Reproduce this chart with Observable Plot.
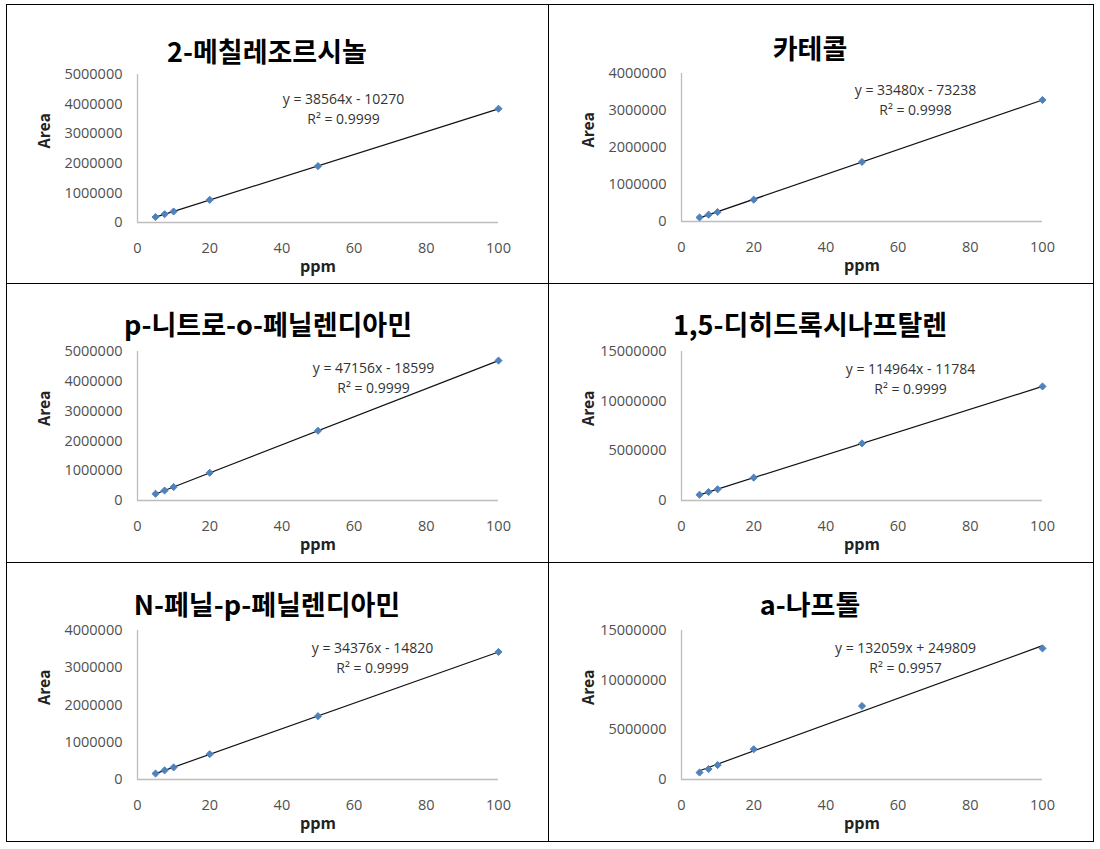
<!DOCTYPE html>
<html>
<head>
<meta charset="utf-8">
<script src="https://cdn.jsdelivr.net/npm/d3@7"></script>
<script src="https://cdn.jsdelivr.net/npm/@observablehq/plot@0.6"></script>
<style>
  html, body { margin: 0; padding: 0; background: #fff; }
  #page { position: relative; width: 1100px; height: 849px; background: #fff; overflow: hidden; }
  .hline, .vline { position: absolute; background: #000; }
  .title { position: absolute; transform: translate(-50%, -50%); font-family: "Noto Sans CJK KR", sans-serif; font-weight: bold; font-size: 27px; line-height: 1; white-space: nowrap; color: #000; z-index: 2; }
  .panel { position: absolute; z-index: 1; }
</style>
</head>
<body>
<div id="page"></div>
<script>
// ---------------- data ----------------
const ppm = [5, 7.5, 10, 20, 50, 100];

const titles = [
  "2-메칠레조르시놀",
  "카테콜",
  "p-니트로-o-페닐렌디아민",
  "1,5-디히드록시나프탈렌",
  "N-페닐-p-페닐렌디아민",
  "a-나프톨"
];

const area2Methylresorcinol = [185000, 280000, 372000, 765000, 1905000, 3845000];
const areaCatechol = [110000, 185000, 255000, 590000, 1610000, 3285000];
const areaNitroPhenylenediamine = [225000, 335000, 450000, 930000, 2340000, 4695000];
const areaDihydroxynaphthalene = [580000, 850000, 1130000, 2300000, 5750000, 11480000];
const areaPhenylPhenylenediamine = [160000, 245000, 325000, 680000, 1700000, 3425000];
const areaNaphthol = [700000, 1050000, 1450000, 3050000, 7400000, 13200000];

const equationLabels = [
  "y = 38564x - 10270",
  "y = 33480x - 73238",
  "y = 47156x - 18599",
  "y = 114964x - 11784",
  "y = 34376x - 14820",
  "y = 132059x + 249809"
];
const r2Labels = [
  "R² = 0.9999",
  "R² = 0.9998",
  "R² = 0.9999",
  "R² = 0.9999",
  "R² = 0.9999",
  "R² = 0.9957"
];

const xTicks = [0, 20, 40, 60, 80, 100];
const yTicks5M = [0, 1000000, 2000000, 3000000, 4000000, 5000000];
const yTicks4M = [0, 1000000, 2000000, 3000000, 4000000];
const yTicks15M = [0, 5000000, 10000000, 15000000];

const seriesList = [area2Methylresorcinol, areaCatechol, areaNitroPhenylenediamine,
                    areaDihydroxynaphthalene, areaPhenylPhenylenediamine, areaNaphthol];
const yTickList = [yTicks5M, yTicks4M, yTicks5M, yTicks15M, yTicks4M, yTicks15M];

// ---------------- layout (not data) ----------------
const frameLeft = [137, 681];
const frameTop = [74, 73, 351, 351, 630, 630];
const frameH = [148, 148, 149, 149, 149, 149];
const titlePos = [[267, 50], [810, 47], [268, 323], [810, 323], [267, 603], [810, 603]];
const eqPos = [[206, 33], [234, 25], [236, 25], [229, 26], [235, 26], [224, 26]];

const page = document.getElementById("page");

// table borders
function hline(y, x1, x2) { const d = document.createElement("div"); d.className = "hline"; Object.assign(d.style, {left: x1 + "px", top: y + "px", width: (x2 - x1 + 1) + "px", height: "1px"}); page.appendChild(d); }
function vline(x, y1, y2) { const d = document.createElement("div"); d.className = "vline"; Object.assign(d.style, {left: x + "px", top: y1 + "px", width: "1px", height: (y2 - y1 + 1) + "px"}); page.appendChild(d); }
[4, 283, 562, 841].forEach(y => hline(y, 6, 1093));
[6, 548, 1093].forEach(x => vline(x, 4, 841));

const font = '"Open Sans", "Noto Sans", sans-serif';

seriesList.forEach((series, i) => {
  const col = i % 2;
  const data = ppm.map((x, j) => ({ppm: x, area: series[j]}));
  const yTicks = yTickList[i];
  const ml = 131, mt = 70, fw = 361, fh = frameH[i], mb = 60;
  const chart = Plot.plot({
    width: 543,
    height: mt + fh + mb,
    marginLeft: ml,
    marginRight: 543 - ml - fw,
    marginTop: mt,
    marginBottom: mb,
    style: {background: "transparent", fontFamily: font, overflow: "visible"},
    x: {domain: [0, 100]},
    y: {domain: [0, d3.max(yTicks)]},
    marks: [
      Plot.axisX({ticks: xTicks, tickSize: 0, tickPadding: 20, tickFormat: d3.format("d"), fontSize: 14.5, color: "#505050", label: null}),
      Plot.axisY({ticks: yTicks, tickSize: 0, tickPadding: 15, tickFormat: d3.format("d"), fontSize: 14.5, color: "#505050", label: null}),
      Plot.ruleY([0], {stroke: "#bdbdbd", strokeWidth: 1.3}),
      Plot.ruleX([0], {stroke: "#bdbdbd", strokeWidth: 1.3}),
      Plot.linearRegressionY(data, {x: "ppm", y: "area", stroke: "#111", strokeWidth: 1.2, ci: 0}),
      Plot.dot(data, {x: "ppm", y: "area", symbol: "diamond2", fill: "#4f81bd", stroke: "#4f81bd", strokeWidth: 1, r: 3.2}),
      Plot.text(["Area"], {frameAnchor: "left", rotate: -90, dx: -93, fontFamily: '"Noto Sans CJK KR", sans-serif', fontWeight: "bold", fontSize: 16, fill: "#222"}),
      Plot.text(["ppm"], {frameAnchor: "bottom", dy: 49, fontFamily: '"Noto Sans CJK KR", sans-serif', fontWeight: "bold", fontSize: 16, fill: "#222"}),
      Plot.text([equationLabels[i] + "\n" + r2Labels[i]], {frameAnchor: "top-left", dx: eqPos[i][0], dy: eqPos[i][1], textAnchor: "middle", lineAnchor: "middle", lineHeight: 1.4, fontSize: 14, fill: "#333"})
    ]
  });
  const wrap = document.createElement("div");
  wrap.className = "panel";
  wrap.style.left = (frameLeft[col] - ml) + "px";
  wrap.style.top = (frameTop[i] - mt) + "px";
  wrap.appendChild(chart);
  page.appendChild(wrap);

  const t = document.createElement("div");
  t.className = "title";
  t.textContent = titles[i];
  t.style.left = titlePos[i][0] + "px";
  t.style.top = titlePos[i][1] + "px";
  page.appendChild(t);
});
</script>
</body>
</html>
